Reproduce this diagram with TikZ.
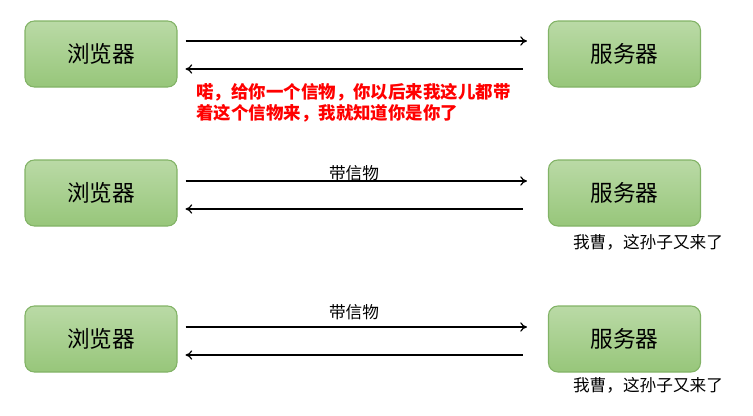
\documentclass[tikz,border=0pt]{standalone}
\usepackage{fontspec}
\setmainfont{Noto Sans CJK SC}
\usepackage{xcolor}
\usetikzlibrary{arrows.meta}
\definecolor{boxtop}{HTML}{BADAA6}
\definecolor{boxbot}{HTML}{97C67A}
\definecolor{boxline}{HTML}{82B366}
\begin{document}
\begin{tikzpicture}[x=0.75pt,y=-0.75pt,
        party/.style={draw=boxline,line width=0.8pt,rounded corners=7pt,
                      top color=boxtop,bottom color=boxbot,
                      minimum width=114pt,minimum height=49.5pt,
                      inner sep=0pt,font=\fontsize{17}{18}\selectfont},
        msg/.style={line width=0.9pt,-{To[length=5pt,width=7pt]}},
        note/.style={inner sep=0pt,font=\fontsize{12.5}{14}\selectfont},
        shout/.style={inner sep=0pt,anchor=west,text=red,
                      font=\fontsize{13.1}{15.5}\selectfont\bfseries}]
        \useasboundingbox (0,0) rectangle (753,415);
        % first visit
        \node[party] (b1) at (101,54) {浏览器};
        \node[party] (s1) at (624.5,54) {服务器};
        \draw[msg] ([xshift=6pt,yshift=9.75pt]b1.east) -- ([xshift=-15.75pt,yshift=9.75pt]s1.west);
        \draw[msg] ([xshift=-18.75pt,yshift=-11.25pt]s1.west) -- ([xshift=6pt,yshift=-11.25pt]b1.east);
        \node[shout] (r1) at (196,92) {喏，给你一个信物，你以后来我这儿都带};
        \node[shout] (r2) at (196,113) {着这个信物来，我就知道你是你了};
        % second visit
        \node[party] (b2) at (101,193) {浏览器};
        \node[party] (s2) at (624.5,193) {服务器};
        \draw[msg] ([xshift=6pt,yshift=9pt]b2.east) -- ([xshift=-15.75pt,yshift=9pt]s2.west);
        \draw[msg] ([xshift=-18.75pt,yshift=-12pt]s2.west) -- ([xshift=6pt,yshift=-12pt]b2.east);
        \node[note] (t2) at (354,173) {带信物};
        \node[note] (a2) at (648,242) {我曹，这孙子又来了};
        % third visit
        \node[party] (b3) at (101,339) {浏览器};
        \node[party] (s3) at (624.5,339) {服务器};
        \draw[msg] ([xshift=6pt,yshift=9pt]b3.east) -- ([xshift=-15.75pt,yshift=9pt]s3.west);
        \draw[msg] ([xshift=-18.75pt,yshift=-12pt]s3.west) -- ([xshift=6pt,yshift=-12pt]b3.east);
        \node[note] (t3) at (354,312) {带信物};
        \node[note] (a3) at (648,385) {我曹，这孙子又来了};
\end{tikzpicture}
\end{document}
